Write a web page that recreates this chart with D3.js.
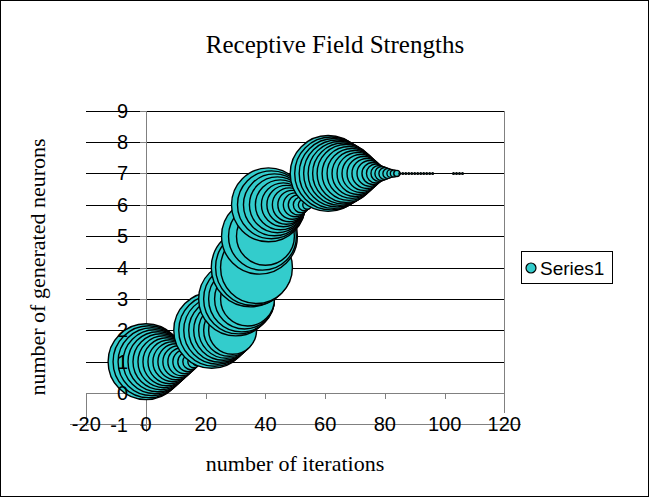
<!DOCTYPE html>
<html><head><meta charset="utf-8">
<script src="https://cdn.jsdelivr.net/npm/d3@7/dist/d3.min.js"></script>
<style>body{margin:0;background:#fff}svg{display:block}</style>
</head><body><svg id="c" width="652" height="500"></svg>
<script>
// ---- data ----
const iterations = [
  0,1,2,3,4,5,6,7,8,9,10,11,12,13,14,15,16,17,18,
  22,23,24,25,26,27,28,29,
  30,31,32,33,34,
  35,36,37,
  38,39,40,
  41,42,43,44,45,46,47,48,49,50,51,52,53,54,
  61,62,63,64,65,66,67,68,69,70,71,72,73,74,75,76,77,78,79,80,81,82,83,84,
  85,86,87,88,89,90,91,92,93,94,95,96,
  103,104,105,106
];
const neurons = [
  1,1,1,1,1,1,1,1,1,1,1,1,1,1,1,1,1,1,1,
  2,2,2,2,2,2,2,2,
  3,3,3,3,3,
  4,4,4,
  5,5,5,
  6,6,6,6,6,6,6,6,6,6,6,6,6,6,
  7,7,7,7,7,7,7,7,7,7,7,7,7,7,7,7,7,7,7,7,7,7,7,7,
  7,7,7,7,7,7,7,7,7,7,7,7,
  7,7,7,7
];
const strengths = [
  93.5,83.9,74.8,66.3,58.3,50.8,43.8,37.3,31.3,25.9,21.0,16.6,12.7,9.3,6.5,4.1,2.3,1.0,0.3,
  93.5,83.9,74.8,66.3,58.3,50.8,43.8,37.3,
  88.6,79.3,70.5,58.3,47.2,
  100,93.5,83.9,
  93.5,74.8,54.5,
  88.6,74.8,62.2,50.8,40.5,31.3,24.6,18.7,13.6,9.3,6.5,4.1,2.3,1.3,
  93.5,86.3,79.3,72.7,66.3,60.2,54.5,47.2,40.5,34.3,28.6,23.4,18.7,14.6,10.9,7.8,5.8,4.1,3.2,2.3,1.6,1.0,0.8,0.6,
  0.05,0.05,0.05,0.05,0.05,0.05,0.05,0.05,0.05,0.05,0.05,0.05,
  0.05,0.05,0.05,0.05
];
const xTicks = [-20, 0, 20, 40, 60, 80, 100, 120];
const yTicks = [-1, 0, 1, 2, 3, 4, 5, 6, 7, 8, 9];
const seriesName = "Series1";
const titleText = "Receptive Field Strengths";
const xTitle = "number of iterations";
const yTitle = "number of generated neurons";

// ---- drawing ----
const svg = d3.select("#c");
const FILL = "#33CCCC";
const SANS = "'Liberation Sans', Arial, sans-serif";
const SERIF = "'Liberation Serif', 'Times New Roman', serif";

const x = d3.scaleLinear().domain([-20, 120]).range([86.3, 504.3]);
const y = d3.scaleLinear().domain([-1, 9]).range([424.5, 110.7]);
const plotH = y(-1) - y(9);
const r = d3.scaleSqrt().domain([0, d3.max(strengths)]).range([0, plotH * 0.125]);
const px = v => Math.round(v) + 0.5;

// outer border
svg.append("rect").attr("x", 0.5).attr("y", 0.5).attr("width", 648).attr("height", 496)
  .attr("fill", "#fff").attr("stroke", "#000").attr("stroke-width", 1);

// title
svg.append("text").attr("x", 335).attr("y", 53).attr("text-anchor", "middle")
  .attr("font-family", SERIF).attr("font-size", 25).text(titleText);

// gridlines
const grid = svg.append("g").attr("shape-rendering", "crispEdges");
grid.selectAll("line").data(yTicks.filter(v => v >= 1)).join("line")
  .attr("x1", x(-20)).attr("x2", x(120))
  .attr("y1", d => px(y(d))).attr("y2", d => px(y(d)))
  .attr("stroke", "#000").attr("stroke-width", 1);

// axes (lines)
const ax = svg.append("g").attr("shape-rendering", "crispEdges").attr("stroke", "#808080").attr("stroke-width", 1);
ax.append("line").attr("x1", x(-20)).attr("x2", x(120)).attr("y1", px(y(0))).attr("y2", px(y(0)));
ax.append("line").attr("x1", px(x(0))).attr("x2", px(x(0))).attr("y1", y(9)).attr("y2", 432);
ax.append("line").attr("x1", px(x(-20))).attr("x2", px(x(-20))).attr("y1", y(0)).attr("y2", px(y(-1)));
ax.append("line").attr("x1", px(x(120))).attr("x2", px(x(120))).attr("y1", y(9)).attr("y2", 413);
ax.append("line").attr("x1", 70).attr("x2", 521).attr("y1", px(y(-1)) - 1).attr("y2", px(y(-1)) - 1);
ax.selectAll(".xt").data(xTicks.filter(v => v > 0 && v < 120)).join("line")
  .attr("x1", d => px(x(d))).attr("x2", d => px(x(d))).attr("y1", y(0)).attr("y2", y(0) + 6);
ax.selectAll(".yt").data(yTicks).join("line")
  .attr("x1", x(0) - 6).attr("x2", x(0)).attr("y1", d => px(y(d))).attr("y2", d => px(y(d)));

// bubbles
const pts = iterations.map((v, i) => ({ x: v, y: neurons[i], s: strengths[i] }));
svg.append("g").selectAll("circle").data(pts).join("circle")
  .attr("cx", d => x(d.x)).attr("cy", d => y(d.y)).attr("r", d => r(d.s))
  .attr("fill", FILL).attr("stroke", "#000").attr("stroke-width", 1.4);

// tick labels
svg.append("g").selectAll("text").data(xTicks).join("text")
  .attr("x", d => x(d)).attr("y", 431).attr("text-anchor", "middle")
  .attr("font-family", SANS).attr("font-size", 20).text(d => d);
svg.append("g").selectAll("text").data(yTicks).join("text")
  .attr("x", 128).attr("y", d => y(d) + 7).attr("text-anchor", "end")
  .attr("font-family", SANS).attr("font-size", 20).text(d => d);

// axis titles
svg.append("text").attr("x", 295).attr("y", 471).attr("text-anchor", "middle")
  .attr("font-family", SERIF).attr("font-size", 22).text(xTitle);
svg.append("text").attr("transform", "translate(45,267) rotate(-90)").attr("text-anchor", "middle")
  .attr("font-family", SERIF).attr("font-size", 22).text(yTitle);

// legend
const lg = svg.append("g");
lg.append("rect").attr("x", 521.5).attr("y", 251.5).attr("width", 91).attr("height", 32)
  .attr("fill", "#fff").attr("stroke", "#000").attr("shape-rendering", "crispEdges");
lg.append("circle").attr("cx", 531).attr("cy", 268).attr("r", 5)
  .attr("fill", FILL).attr("stroke", "#000").attr("stroke-width", 1.2);
lg.append("text").attr("x", 540).attr("y", 275).attr("font-family", SANS).attr("font-size", 19).text(seriesName);
</script></body></html>
